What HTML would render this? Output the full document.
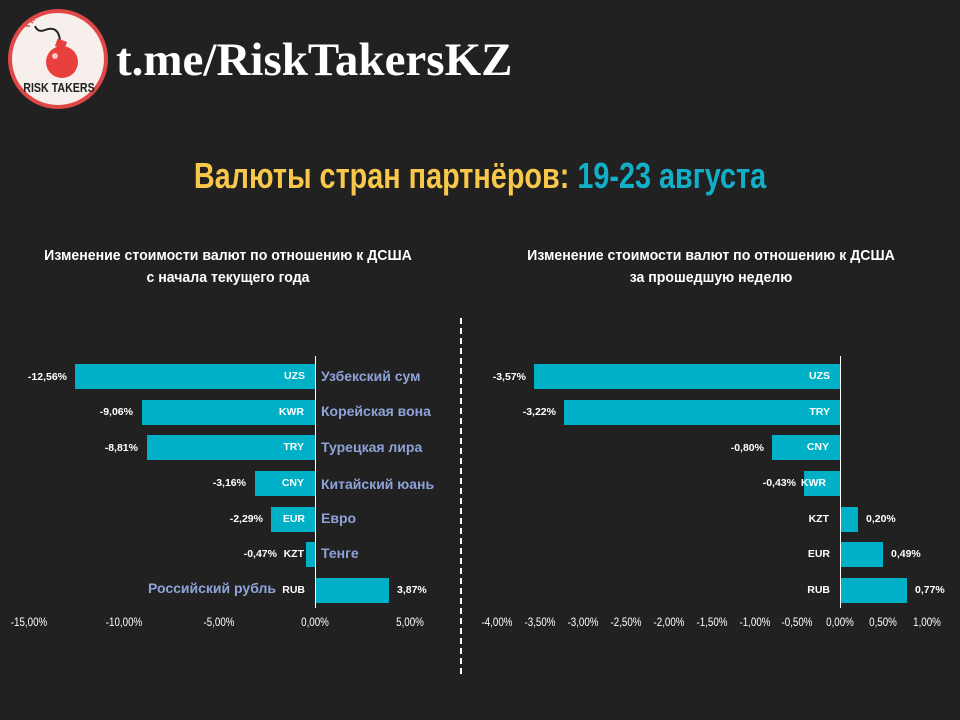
<!DOCTYPE html>
<html><head><meta charset="utf-8"><style>
body{margin:0;width:960px;height:720px;background:#212121;overflow:hidden;position:relative;font-family:"Liberation Sans","DejaVu Sans",sans-serif;}
div,span{position:absolute;}
.bar{background:#00b0c7;height:25px;}
.lab{color:#fff;font-size:10.5px;font-weight:bold;white-space:nowrap;line-height:12px;}
.r{text-align:right;width:80px;}
.ru{color:#8ea3d8;font-size:14px;font-weight:bold;white-space:nowrap;line-height:16px;}
.tk{color:#fff;font-size:11.5px;white-space:nowrap;transform:translateX(-50%) scaleX(0.85);top:617px;}
.sub{color:#fff;font-weight:bold;font-size:15px;white-space:nowrap;text-align:center;line-height:22px;transform:translateX(-50%) scaleX(0.94);}
</style></head><body>
<svg style="position:absolute;left:0;top:0" width="115" height="115">
<circle cx="58" cy="59" r="48" fill="#f6efeb" stroke="#e04848" stroke-width="4"/>
<path d="M60 40 Q58 25 45 30 Q38 33 35 26" stroke="#222" stroke-width="2" fill="none"/>
<path d="M29 20 l4 3 M33 16 l1 5 M25 26 l5 0" stroke="#e04848" stroke-width="1.5"/>
<circle cx="62" cy="62" r="16" fill="#e8403c"/>
<rect x="56" y="40" width="10" height="8" fill="#e8403c" transform="rotate(20 61 44)"/>
<circle cx="55" cy="56" r="3" fill="#fff" opacity=".7"/>
<text x="59" y="92" text-anchor="middle" font-family="Liberation Sans" font-weight="bold" font-size="13" fill="#222" transform="translate(59 0) scale(0.82 1) translate(-59 0)">RISK TAKERS</text>
</svg>
<div style="left:116px;top:32px;color:#fff;font-family:'Liberation Serif',serif;font-weight:bold;font-size:47px;line-height:56px;white-space:nowrap;">t.me/RiskTakersKZ</div>
<div style="left:480px;top:154px;font-weight:bold;font-size:36px;white-space:nowrap;transform:translateX(-50%) scaleX(0.8);color:#f8c84a;line-height:44px;">Валюты стран партнёров: <span style="position:static;color:#12b0c8">19-23 августа</span></div>
<div class="sub" style="left:228px;top:245px;">Изменение стоимости валют по отношению к ДСША<br>с начала текущего года</div>
<div class="sub" style="left:711px;top:245px;">Изменение стоимости валют по отношению к ДСША<br>за прошедшую неделю</div>
<div style="left:460px;top:318px;width:0;height:356px;border-left:2px dashed #fff;"></div>

<div style="left:315px;top:356px;width:1px;height:252px;background:#fff"></div>
<div class="bar" style="left:75px;width:240px;top:364px"></div>
<div class="bar" style="left:142px;width:173px;top:400px"></div>
<div class="bar" style="left:147px;width:168px;top:435px"></div>
<div class="bar" style="left:255px;width:60px;top:471px"></div>
<div class="bar" style="left:271px;width:44px;top:507px"></div>
<div class="bar" style="left:306px;width:9px;top:542px"></div>
<div class="bar" style="left:316px;width:73px;top:578px"></div>
<div class="lab r" style="left:-13px;top:371px">-12,56%</div>
<div class="lab r" style="left:53px;top:406px">-9,06%</div>
<div class="lab r" style="left:58px;top:442px">-8,81%</div>
<div class="lab r" style="left:166px;top:477px">-3,16%</div>
<div class="lab r" style="left:183px;top:513px">-2,29%</div>
<div class="lab r" style="left:197px;top:548px">-0,47%</div>
<div class="lab" style="left:397px;top:584px">3,87%</div>
<div class="lab r" style="left:225px;top:370px">UZS</div>
<div class="lab r" style="left:224px;top:406px">KWR</div>
<div class="lab r" style="left:224px;top:441px">TRY</div>
<div class="lab r" style="left:224px;top:477px">CNY</div>
<div class="lab r" style="left:225px;top:513px">EUR</div>
<div class="lab r" style="left:224px;top:548px">KZT</div>
<div class="lab r" style="left:225px;top:584px">RUB</div>
<div class="ru" style="left:321px;top:368px">Узбекский сум</div>
<div class="ru" style="left:321px;top:403px">Корейская вона</div>
<div class="ru" style="left:321px;top:439px">Турецкая лира</div>
<div class="ru" style="left:321px;top:476px">Китайский юань</div>
<div class="ru" style="left:321px;top:510px">Евро</div>
<div class="ru" style="left:321px;top:545px">Тенге</div>
<div class="ru" style="left:148px;top:580px">Российский рубль</div>
<div class="tk" style="left:29px">-15,00%</div>
<div class="tk" style="left:124px">-10,00%</div>
<div class="tk" style="left:219px">-5,00%</div>
<div class="tk" style="left:315px">0,00%</div>
<div class="tk" style="left:410px">5,00%</div>

<div style="left:840px;top:356px;width:1px;height:252px;background:#fff"></div>
<div class="bar" style="left:534px;width:306px;top:364px"></div>
<div class="bar" style="left:564px;width:276px;top:400px"></div>
<div class="bar" style="left:772px;width:68px;top:435px"></div>
<div class="bar" style="left:804px;width:36px;top:471px"></div>
<div class="bar" style="left:841px;width:17px;top:507px"></div>
<div class="bar" style="left:841px;width:42px;top:542px"></div>
<div class="bar" style="left:841px;width:66px;top:578px"></div>
<div class="lab r" style="left:446px;top:371px">-3,57%</div>
<div class="lab r" style="left:476px;top:406px">-3,22%</div>
<div class="lab r" style="left:684px;top:442px">-0,80%</div>
<div class="lab r" style="left:716px;top:477px">-0,43%</div>
<div class="lab" style="left:866px;top:513px">0,20%</div>
<div class="lab" style="left:891px;top:548px">0,49%</div>
<div class="lab" style="left:915px;top:584px">0,77%</div>
<div class="lab r" style="left:750px;top:370px">UZS</div>
<div class="lab r" style="left:750px;top:406px">TRY</div>
<div class="lab r" style="left:749px;top:441px">CNY</div>
<div class="lab r" style="left:746px;top:477px">KWR</div>
<div class="lab r" style="left:749px;top:513px">KZT</div>
<div class="lab r" style="left:750px;top:548px">EUR</div>
<div class="lab r" style="left:750px;top:584px">RUB</div>
<div class="tk" style="left:497px">-4,00%</div>
<div class="tk" style="left:540px">-3,50%</div>
<div class="tk" style="left:583px">-3,00%</div>
<div class="tk" style="left:626px">-2,50%</div>
<div class="tk" style="left:669px">-2,00%</div>
<div class="tk" style="left:712px">-1,50%</div>
<div class="tk" style="left:755px">-1,00%</div>
<div class="tk" style="left:797px">-0,50%</div>
<div class="tk" style="left:840px">0,00%</div>
<div class="tk" style="left:883px">0,50%</div>
<div class="tk" style="left:927px">1,00%</div>
</body></html>
